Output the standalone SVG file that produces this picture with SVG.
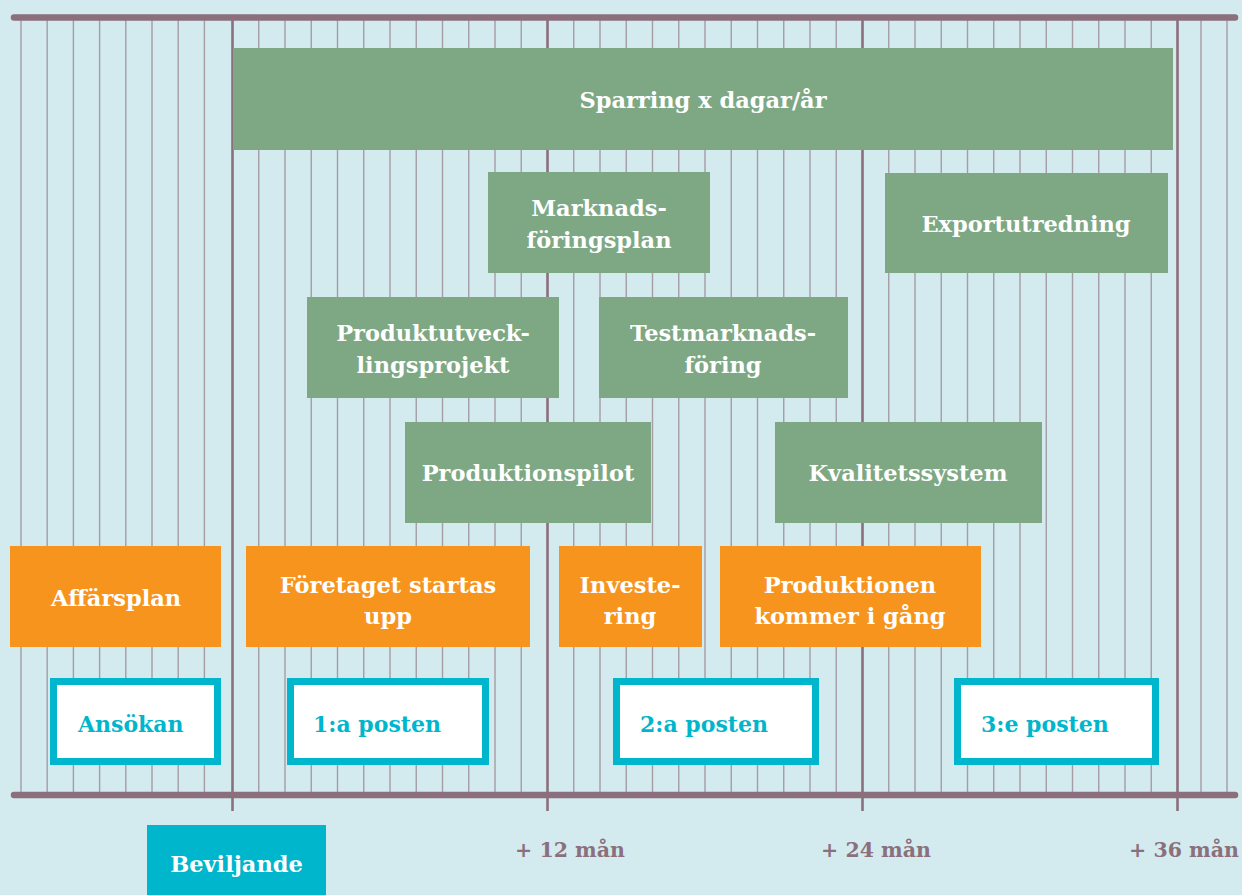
<svg xmlns="http://www.w3.org/2000/svg" width="1242" height="895" viewBox="0 0 1242 895">
<style>
.minor{stroke:#a59ca4;stroke-width:1.4}
.major{stroke:#8b6f7c;stroke-width:2.6}
.axis{stroke:#8b6f7c;stroke-width:6.5;stroke-linecap:round}
.g{fill:#7da883}
.o{fill:#f7941e}
.p{fill:#ffffff;stroke:#00b6cc;stroke-width:7}
.t{font-family:"DejaVu Serif",serif;font-weight:bold;font-size:22.5px;fill:#ffffff;text-anchor:middle}
.tp{font-family:"DejaVu Serif",serif;font-weight:bold;font-size:22px;fill:#00b6cc}
.ax{font-family:"DejaVu Serif",serif;font-weight:bold;font-size:20.5px;fill:#8b6f7c;text-anchor:middle}
</style>
<rect x="0" y="0" width="1242" height="895" fill="#d3ebef"/>
<g id="grid">
<g class="minor">
<line x1="21" y1="20" x2="21" y2="795"/>
<line x1="47.2" y1="20" x2="47.2" y2="795"/>
<line x1="73.4" y1="20" x2="73.4" y2="795"/>
<line x1="99.6" y1="20" x2="99.6" y2="795"/>
<line x1="125.8" y1="20" x2="125.8" y2="795"/>
<line x1="152" y1="20" x2="152" y2="795"/>
<line x1="178.2" y1="20" x2="178.2" y2="795"/>
<line x1="204.4" y1="20" x2="204.4" y2="795"/>
<line x1="258.75" y1="20" x2="258.75" y2="795"/>
<line x1="285" y1="20" x2="285" y2="795"/>
<line x1="311.25" y1="20" x2="311.25" y2="795"/>
<line x1="337.5" y1="20" x2="337.5" y2="795"/>
<line x1="363.75" y1="20" x2="363.75" y2="795"/>
<line x1="390" y1="20" x2="390" y2="795"/>
<line x1="416.25" y1="20" x2="416.25" y2="795"/>
<line x1="442.5" y1="20" x2="442.5" y2="795"/>
<line x1="468.75" y1="20" x2="468.75" y2="795"/>
<line x1="495" y1="20" x2="495" y2="795"/>
<line x1="521.25" y1="20" x2="521.25" y2="795"/>
<line x1="573.75" y1="20" x2="573.75" y2="795"/>
<line x1="600" y1="20" x2="600" y2="795"/>
<line x1="626.25" y1="20" x2="626.25" y2="795"/>
<line x1="652.5" y1="20" x2="652.5" y2="795"/>
<line x1="678.75" y1="20" x2="678.75" y2="795"/>
<line x1="705" y1="20" x2="705" y2="795"/>
<line x1="731.25" y1="20" x2="731.25" y2="795"/>
<line x1="757.5" y1="20" x2="757.5" y2="795"/>
<line x1="783.75" y1="20" x2="783.75" y2="795"/>
<line x1="810" y1="20" x2="810" y2="795"/>
<line x1="836.25" y1="20" x2="836.25" y2="795"/>
<line x1="888.75" y1="20" x2="888.75" y2="795"/>
<line x1="915" y1="20" x2="915" y2="795"/>
<line x1="941.25" y1="20" x2="941.25" y2="795"/>
<line x1="967.5" y1="20" x2="967.5" y2="795"/>
<line x1="993.75" y1="20" x2="993.75" y2="795"/>
<line x1="1020" y1="20" x2="1020" y2="795"/>
<line x1="1046.25" y1="20" x2="1046.25" y2="795"/>
<line x1="1072.5" y1="20" x2="1072.5" y2="795"/>
<line x1="1098.75" y1="20" x2="1098.75" y2="795"/>
<line x1="1125" y1="20" x2="1125" y2="795"/>
<line x1="1151.25" y1="20" x2="1151.25" y2="795"/>
<line x1="1201" y1="20" x2="1201" y2="795"/>
<line x1="1227" y1="20" x2="1227" y2="795"/>
</g>
<g class="major">
<line x1="232.5" y1="20" x2="232.5" y2="811"/>
<line x1="547.5" y1="20" x2="547.5" y2="811"/>
<line x1="862.5" y1="20" x2="862.5" y2="811"/>
<line x1="1177.5" y1="20" x2="1177.5" y2="811"/>
</g>
<line class="axis" x1="14" y1="17.5" x2="1235" y2="17.5"/>
<line class="axis" x1="14" y1="795" x2="1235" y2="795"/>
</g>
<g id="sparring"><rect class="g" x="233" y="48" width="940" height="102"/><text class="t" x="703" y="108" font-size="24">Sparring x dagar/år</text></g>
<g id="marknadsforingsplan"><rect class="g" x="488" y="172" width="222" height="101"/><text class="t" x="599" y="216">Marknads-</text><text class="t" x="599" y="248">föringsplan</text></g>
<g id="exportutredning"><rect class="g" x="885" y="173" width="283" height="100"/><text class="t" x="1026" y="232">Exportutredning</text></g>
<g id="produktutvecklingsprojekt"><rect class="g" x="307" y="297" width="252" height="101"/><text class="t" x="433" y="341">Produktutveck-</text><text class="t" x="433" y="373">lingsprojekt</text></g>
<g id="testmarknadsforing"><rect class="g" x="599" y="297" width="249" height="101"/><text class="t" x="723" y="341">Testmarknads-</text><text class="t" x="723" y="373">föring</text></g>
<g id="produktionspilot"><rect class="g" x="405" y="422" width="246" height="101"/><text class="t" x="528" y="481">Produktionspilot</text></g>
<g id="kvalitetssystem"><rect class="g" x="775" y="422" width="267" height="101"/><text class="t" x="908" y="481">Kvalitetssystem</text></g>
<g id="affarsplan"><rect class="o" x="10" y="546" width="211" height="101"/><text class="t" x="116" y="606">Affärsplan</text></g>
<g id="foretaget"><rect class="o" x="246" y="546" width="284" height="101"/><text class="t" x="388" y="593">Företaget startas</text><text class="t" x="388" y="624">upp</text></g>
<g id="investering"><rect class="o" x="559" y="546" width="143" height="101"/><text class="t" x="630" y="593">Investe-</text><text class="t" x="630" y="624">ring</text></g>
<g id="produktionen"><rect class="o" x="720" y="546" width="261" height="101"/><text class="t" x="850" y="593">Produktionen</text><text class="t" x="850" y="624">kommer i gång</text></g>
<g id="ansokan"><rect class="p" x="53.5" y="681.5" width="164" height="80"/><text class="tp" x="78" y="732">Ansökan</text></g>
<g id="post1"><rect class="p" x="290.5" y="681.5" width="195" height="80"/><text class="tp" x="313" y="732">1:a posten</text></g>
<g id="post2"><rect class="p" x="616.5" y="681.5" width="199" height="80"/><text class="tp" x="640" y="732">2:a posten</text></g>
<g id="post3"><rect class="p" x="957.5" y="681.5" width="198" height="80"/><text class="tp" x="981" y="732">3:e posten</text></g>
<g id="beviljande"><rect fill="#00b6cc" x="147" y="825" width="179" height="70"/><text class="t" x="236.5" y="872">Beviljande</text></g>
<g id="labels">
<text class="ax" x="570" y="857">+ 12 mån</text>
<text class="ax" x="876" y="857">+ 24 mån</text>
<text class="ax" x="1184" y="857">+ 36 mån</text>
</g>
</svg>
